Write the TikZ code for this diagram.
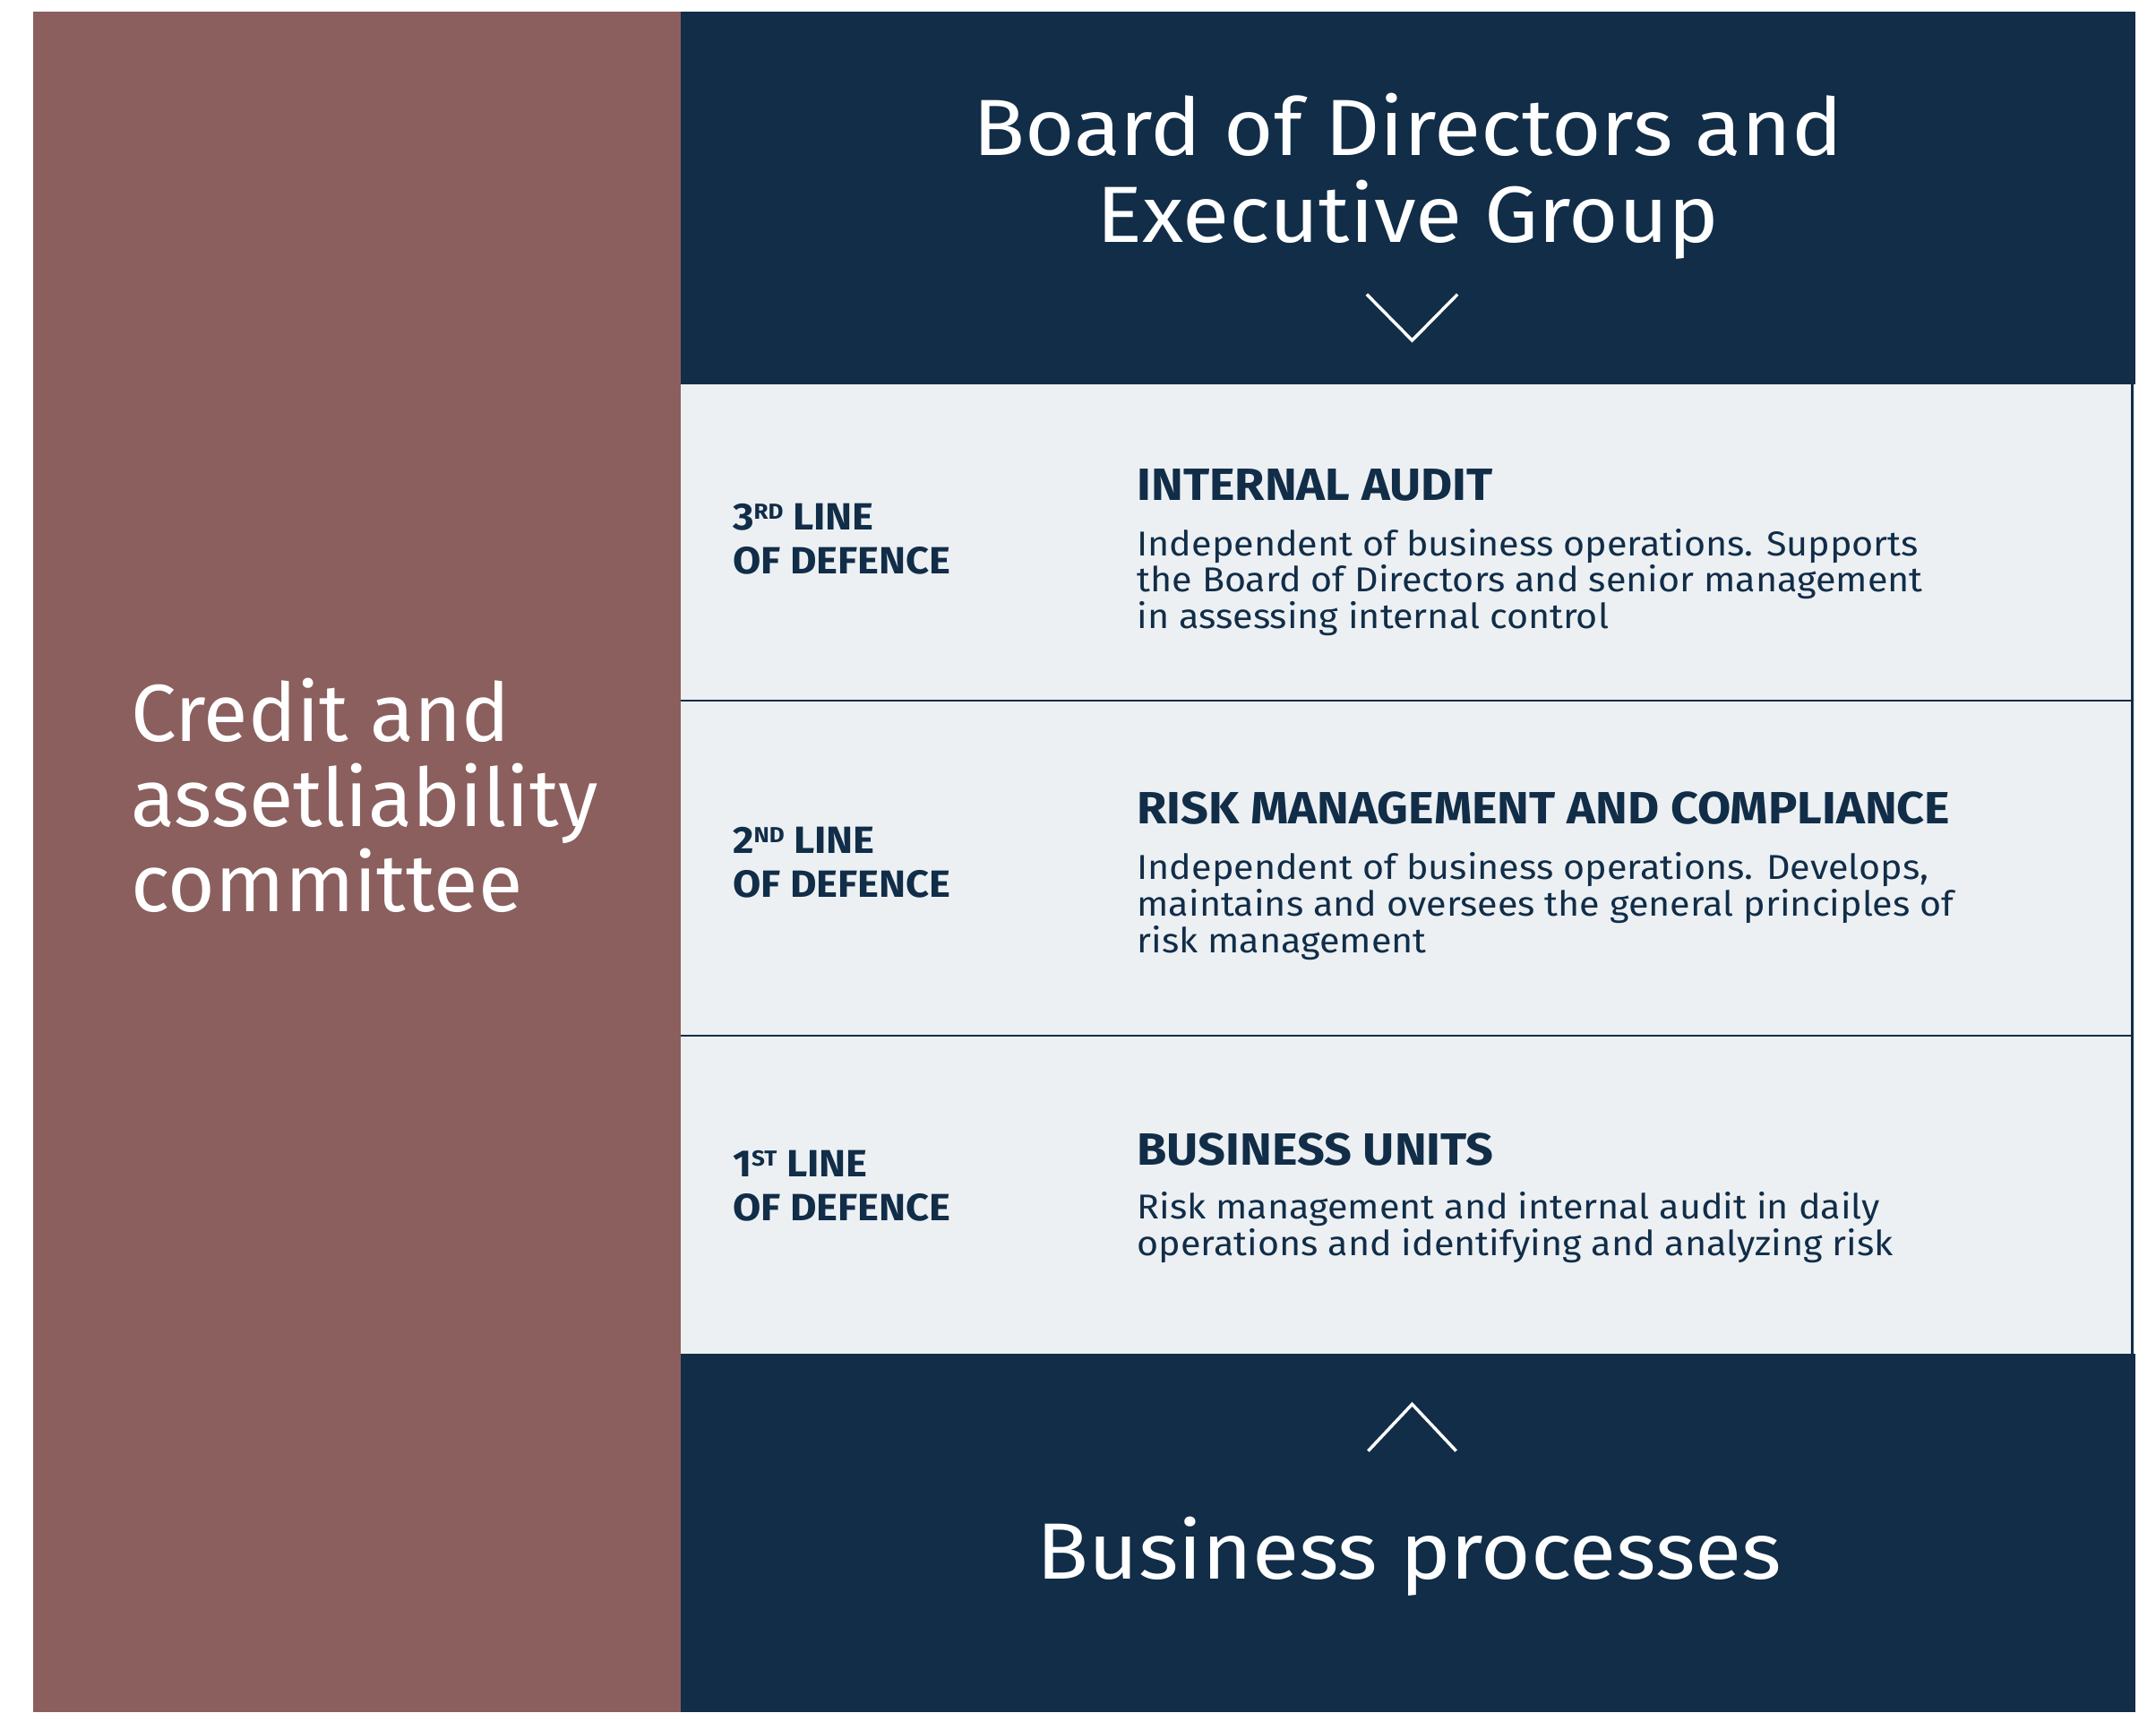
\documentclass[tikz,border=0pt]{standalone}
\usepackage{fontspec}
\setmainfont{Fira Sans}
\newfontfamily\widefont[FakeStretch=1.07]{Fira Sans}
\usepackage{tikz}

\definecolor{navy}{HTML}{112D48}
\definecolor{clay}{HTML}{8B5F5E}
\definecolor{mist}{HTML}{ECF0F3}

% ordinal with raised small letters
\newcommand{\ordsup}[2]{#1\raisebox{4.6pt}{\fontsize{9}{9}\selectfont #2}}

\begin{document}
\begin{tikzpicture}[
    x=0.02cm, y=-0.02cm,
    big/.style={text=white, font=\widefont\fontsize{33}{35.8}\selectfont, inner sep=0pt},
    side/.style={text=white, font=\fontsize{33.5}{35.3}\selectfont, inner sep=0pt},
    tag/.style={text=navy, font=\widefont\fontsize{15.7}{18.2}\selectfont\bfseries, anchor=base west, align=left, inner sep=0pt},
    head/.style={text=navy, font=\widefont\fontsize{18.7}{18.7}\selectfont\bfseries, anchor=base west, inner sep=0pt},
    body/.style={text=navy, font=\widefont\fontsize{14.3}{15.1}\selectfont, anchor=base west, align=left, inner sep=0pt},
    rule/.style={draw=navy, line width=1pt},
    chev/.style={draw=white, line width=1.3pt}
]
\useasboundingbox (0,0) rectangle (1568,1245);

% Panels
\fill[clay] (24,8.5) rectangle (495,1245);
\fill[navy] (495,8.5) rectangle (1553,279.5);
\fill[mist] (495,279.5) rectangle (1551,984.4);
\fill[navy] (495,984.4) rectangle (1553,1245);

% Row dividers
\draw[rule] (495,509.5) -- (1551,509.5);
\draw[rule] (495,753) -- (1551,753);
\draw[rule] (1550.5,279.5) -- (1550.5,984.4);

% Top and bottom (base = last line)
\node[big, align=center, anchor=base] (board) at (1024,176) {Board of Directors and\\Executive Group};
\draw[chev] (994,214) -- (1027,247.5) -- (1060,214);

\node[big, anchor=base] (procs) at (1025,1148) {Business processes};
\draw[chev] (995,1055) -- (1027,1021) -- (1059,1055);

% Committee
\node[side, align=left, anchor=base west] (credit) at (95,663) {Credit and\\assetliability\\committee};

% 3rd line
\node[tag] (line3) at (532.6,417.5) {\ordsup{3}{RD} LINE\\OF DEFENCE};
\node[head] (audit) at (826.7,364) {INTERNAL AUDIT};
\node[body] (auditTxt) at (826.7,457) {Independent of business operations. Supports\\the Board of Directors and senior management\\in assessing internal control};

% 2nd line
\node[tag] (line2) at (532.6,652.6) {\ordsup{2}{ND} LINE\\OF DEFENCE};
\node[head] (risk) at (826.7,599) {RISK MANAGEMENT AND COMPLIANCE};
\node[body] (riskTxt) at (826.7,692.5) {Independent of business operations. Develops,\\maintains and oversees the general principles of\\risk management};

% 1st line
\node[tag] (line1) at (532.6,887.6) {\ordsup{1}{ST} LINE\\OF DEFENCE};
\node[head] (units) at (826.7,847) {BUSINESS UNITS};
\node[body] (unitsTxt) at (826.7,913) {Risk management and internal audit in daily\\operations and identifying and analyzing risk};

\end{tikzpicture}
\end{document}
